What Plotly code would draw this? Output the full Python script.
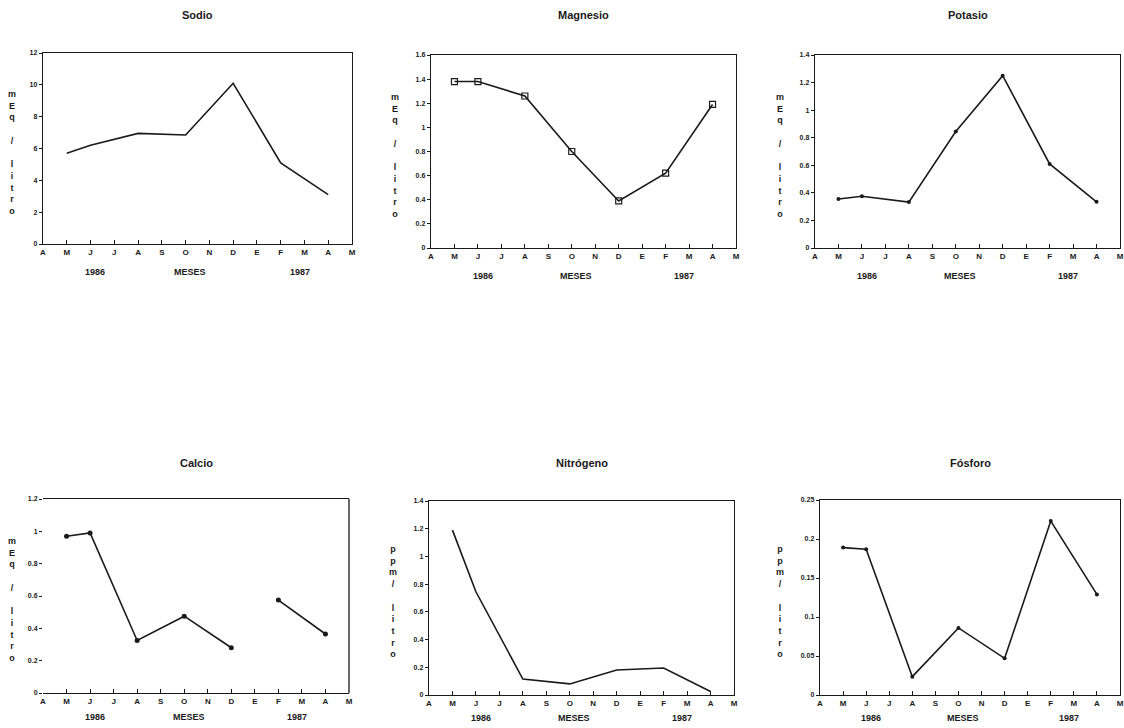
import plotly.graph_objects as go

# ---------------- data ----------------
month_labels = ["A", "M", "J", "J", "A", "S", "O", "N", "D", "E", "F", "M", "A", "M"]
month_positions = list(range(len(month_labels)))
sample_months = [1, 2, 4, 6, 8, 10, 12]

sodio = [5.7, 6.2, 6.95, 6.85, 10.1, 5.1, 3.1]
magnesio = [1.38, 1.38, 1.26, 0.80, 0.39, 0.62, 1.19]
potasio = [0.355, 0.375, 0.333, 0.845, 1.25, 0.61, 0.335]
calcio_months = [1, 2, 4, 6, 8, 9, 10, 12]
calcio = [0.97, 0.99, 0.325, 0.475, 0.28, None, 0.575, 0.365]
nitrogeno = [1.19, 0.745, 0.115, 0.08, 0.18, 0.195, 0.025]
fosforo = [0.189, 0.187, 0.0235, 0.086, 0.047, 0.223, 0.129]

titles = ["Sodio", "Magnesio", "Potasio", "Calcio", "Nitrógeno", "Fósforo"]
units = ["mEq/litro", "mEq/litro", "mEq/litro", "mEq/litro", "ppm/litro", "ppm/litro"]
y_max = [12, 1.6, 1.4, 1.2, 1.4, 0.25]
y_step = [2, 0.2, 0.2, 0.2, 0.2, 0.05]
year_labels = ["1986", "MESES", "1987"]
year_label_x = [2.2, 6.2, 10.8]

# ---------------- layout geometry (pixels) ----------------
W, H = 1124, 728
boxes = [  # left, right, top, bottom
    (43, 352, 53, 244),
    (431, 736, 55, 248),
    (815, 1120, 55, 248),
    (43, 349, 499, 693),
    (429, 734, 501, 695),
    (820, 1120, 500, 695),
]
unit_x = [12, 395, 780, 12, 393, 780]
title_y = [15, 15, 15, 463, 463, 463]
year_dy = [28, 28, 28, 24, 23, 23]

series = [
    (sample_months, sodio, None),
    (sample_months, magnesio, dict(symbol="square-open", size=6, color="#1a1a1a", line=dict(width=1.2))),
    (sample_months, potasio, dict(symbol="circle", size=4, color="#1a1a1a")),
    (calcio_months, calcio, dict(symbol="circle", size=5, color="#1a1a1a")),
    (sample_months, nitrogeno, None),
    (sample_months, fosforo, dict(symbol="circle", size=4, color="#1a1a1a")),
]

FONT = "Liberation Sans, Arial, sans-serif"
INK = "#1a1a1a"

fig = go.Figure()
annotations = []
shapes = []
layout = dict(
    width=W, height=H,
    margin=dict(l=0, r=0, t=0, b=0, autoexpand=False),
    paper_bgcolor="white", plot_bgcolor="white",
    showlegend=False,
    font=dict(family=FONT, color=INK),
)

def px_x(v):
    return v / W

def px_y(v):
    return 1 - v / H

for i, (box, (xs, ys, mk)) in enumerate(zip(boxes, series)):
    n = "" if i == 0 else str(i + 1)
    l, r, t, b = box
    fig.add_trace(go.Scatter(
        x=xs, y=ys,
        mode="lines+markers" if mk else "lines",
        line=dict(color=INK, width=1.6),
        marker=mk if mk else None,
        connectgaps=False,
        xaxis="x" + n, yaxis="y" + n,
        hoverinfo="skip",
    ))
    layout["xaxis" + n] = dict(
        domain=[px_x(l), px_x(r)],
        anchor="y" + n,
        automargin=False,
        range=[0, 13],
        tickvals=month_positions,
        ticktext=month_labels,
        ticks="inside", ticklen=4, tickwidth=1, tickcolor=INK,
        tickfont=dict(size=8, family=FONT, color=INK, weight="bold"),
        showgrid=False, zeroline=False,
        showline=True, linecolor=INK, linewidth=1.3, mirror=True,
    )
    calcio_panel = (i == 3)
    layout["yaxis" + n] = dict(
        domain=[px_y(b), px_y(t)],
        anchor="x" + n,
        automargin=False,
        range=[0, y_max[i]],
        dtick=y_step[i], tick0=0,
        ticks="outside", ticklen=3, tickwidth=1, tickcolor=INK,
        tickfont=dict(size=7, family=FONT, color=INK, weight="bold"),
        showgrid=False, zeroline=False,
        showline=not calcio_panel, linecolor=INK, linewidth=1.3, mirror=True,
    )
    if calcio_panel:
        shapes.append(dict(type="line", xref="x" + n + " domain", yref="y" + n + " domain",
                           x0=1, x1=1, y0=0, y1=1, line=dict(color=INK, width=1.3)))

    # title
    annotations.append(dict(
        text=titles[i], xref="paper", yref="paper",
        x=px_x((l + r) / 2), y=px_y(title_y[i]),
        showarrow=False, xanchor="center", yanchor="middle",
        font=dict(size=11, family=FONT, color=INK, weight="bold"),
    ))
    # year / MESES labels
    for txt, xv in zip(year_labels, year_label_x):
        annotations.append(dict(
            text=txt, xref="x" + n, yref="paper",
            x=xv, y=px_y(b + year_dy[i]),
            showarrow=False, xanchor="center", yanchor="middle",
            font=dict(size=9, family=FONT, color=INK, weight="bold"),
        ))
    # stacked unit label
    unit = units[i]
    top_part, bottom_part = unit.split("/")
    if top_part.startswith("m"):
        stacked = "<br>".join(list(top_part)) + "<br><br>/<br><br>" + "<br>".join(list(bottom_part))
    else:
        stacked = "<br>".join(list(top_part)) + "<br>/<br><br>" + "<br>".join(list(bottom_part))
    annotations.append(dict(
        text=stacked, xref="paper", yref="paper",
        x=px_x(unit_x[i]), y=px_y(t + (b - t) * 0.52),
        showarrow=False, xanchor="center", yanchor="middle",
        align="center",
        font=dict(size=9, family=FONT, color=INK, weight="bold"),
    ))

layout["annotations"] = annotations
layout["shapes"] = shapes
fig.update_layout(**layout)
fig.write_html(
    "out.html",
    config={"displayModeBar": False, "staticPlot": True},
    post_script="document.body.style.margin='0';document.body.style.overflow='hidden';",
)
